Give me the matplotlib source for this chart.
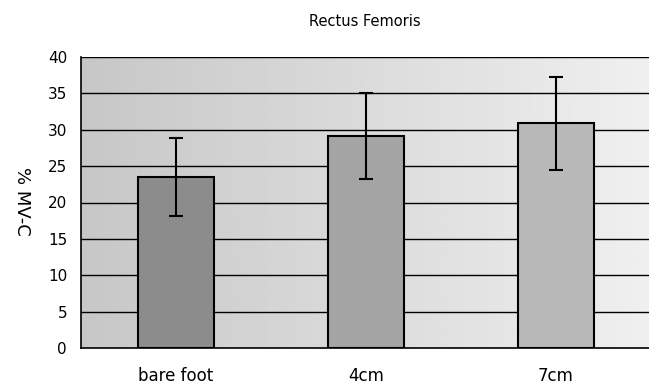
import matplotlib
matplotlib.use('Agg')
from matplotlib import pyplot as plt
import numpy as np

# data
categories = ['bare foot', '4cm', '7cm']
means = [23.5, 29.1, 30.9]
errors = [5.3, 5.9, 6.4]
bar_colors = ['#8c8c8c', '#a4a4a4', '#b8b8b8']
y_ticks = [0, 5, 10, 15, 20, 25, 30, 35, 40]

fig = plt.figure(figsize=(6.49, 3.85), dpi=100)
ax = fig.add_axes([81/649, 37/385, 570/649, 291/385])

x = np.arange(len(categories))
ax.set_xlim(-0.5, 2.5)
ax.set_ylim(0, 40)

# halftone-ish gray background, darker on the left
grad = np.linspace(0.78, 0.94, 256).reshape(1, -1)
ax.imshow(grad, extent=(-0.5, 2.5, 0, 40), aspect='auto', cmap='gray',
          vmin=0, vmax=1, zorder=0)

for t in y_ticks[1:]:
    ax.axhline(t, color='black', linewidth=1.0, zorder=1)

ax.bar(x, means, width=0.405, color=bar_colors, edgecolor='black',
       linewidth=1.5, zorder=2)
ax.errorbar(x, means, yerr=errors, fmt='none', ecolor='black',
            elinewidth=1.5, capsize=5, capthick=1.5, zorder=3)

ax.set_xticks(x)
ax.set_xticklabels(categories, fontsize=12)
ax.set_yticks(y_ticks)
ax.tick_params(axis='y', length=0, labelsize=11, pad=10)
ax.tick_params(axis='x', length=0, labelsize=12, pad=14)

ax.spines['right'].set_visible(False)
for s in ['left', 'bottom', 'top']:
    ax.spines[s].set_color('black')
ax.spines['left'].set_linewidth(1.2)
ax.spines['bottom'].set_linewidth(1.2)
ax.spines['top'].set_linewidth(0.6)

fig.text(365/649, 1 - 22/385, 'Rectus Femoris', ha='center', va='center', fontsize=10.5)
fig.text(22/649, 1 - 201/385, '% MV-C', ha='center', va='center', fontsize=13, rotation=-90)

fig.savefig('out.png', dpi=100)
